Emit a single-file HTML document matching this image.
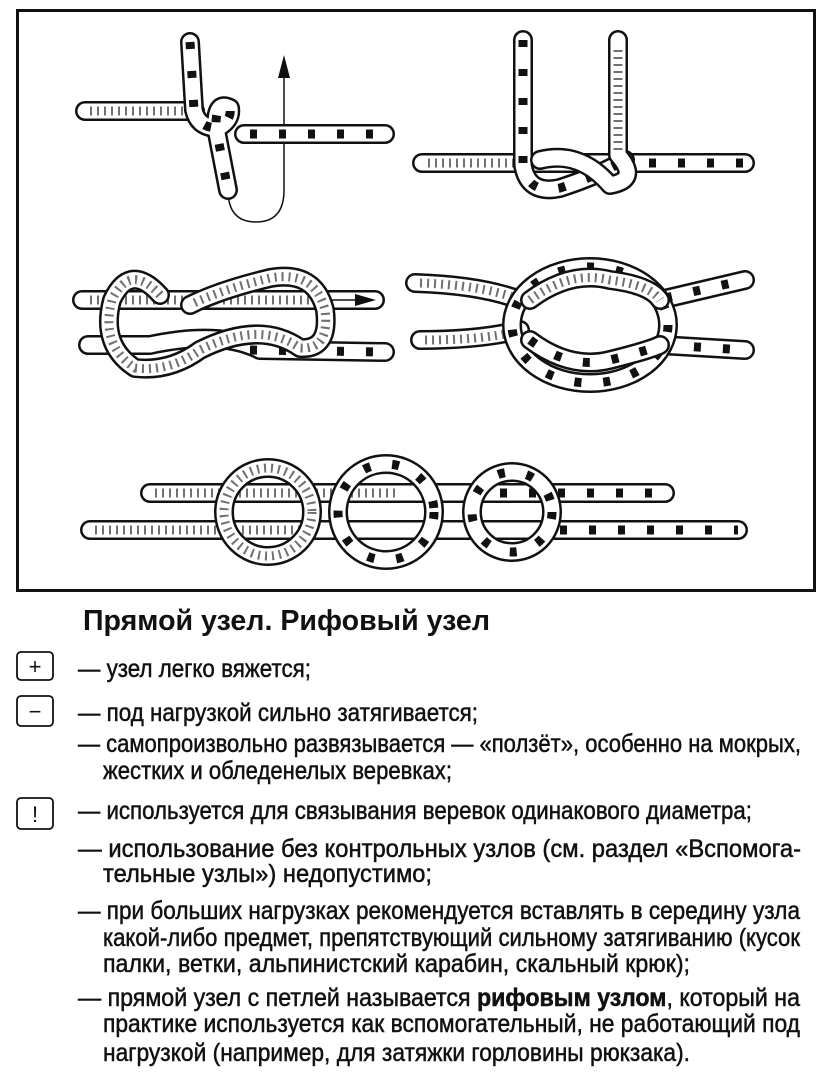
<!DOCTYPE html>
<html><head><meta charset="utf-8"><style>
html,body{margin:0;padding:0;background:#fff;}
svg{display:block}
text{font-family:"Liberation Sans",sans-serif;fill:#111}
.r1{fill:none;stroke:#111;stroke-width:20;stroke-linecap:round;stroke-linejoin:round}
.r2{fill:none;stroke:#fff;stroke-width:15;stroke-linecap:round;stroke-linejoin:round}
.r3{fill:none;stroke:#333;stroke-width:9;stroke-dasharray:2 5;opacity:.7}
.r4{fill:none;stroke:#111;stroke-width:9;stroke-dasharray:7 22}
.t text{stroke:#111;stroke-width:0.5}
</style></head><body>
<svg width="831" height="1080" viewBox="0 0 831 1080" xmlns="http://www.w3.org/2000/svg">
<rect x="17.5" y="10.5" width="797" height="580" fill="#fff" stroke="#111" stroke-width="3"/>

<g>
<!-- Fig1 -->
<path d="M228 190 Q228 222 256 222 Q284 222 284 190 L284 70" fill="none" stroke="#111" stroke-width="1.5"/>
<path d="M278 78 L284 55 L290 78 Z" fill="#111"/>
<path class="r1" d="M85 111 L195 111"/><path class="r2" d="M85 111 L195 111"/><path class="r3" d="M90 111 L190 111"/>
<path class="r1" d="M244 134 L385 134"/><path class="r2" d="M244 134 L385 134"/><path class="r4" d="M250 134 L385 134"/>
<path class="r1" d="M190 42 L194 110 Q198 128 218 128 Q232 120 230 108 Q215 100 216 128 L228 190"/>
<path class="r2" d="M190 42 L194 110 Q198 128 218 128 Q232 120 230 108 Q215 100 216 128 L228 190"/>
<path class="r4" d="M190 42 L194 110 Q198 128 218 128 Q232 120 230 108 Q215 100 216 128 L228 190"/>
<!-- Fig2 -->
<path class="r1" d="M422 163 L745 163"/><path class="r2" d="M422 163 L745 163"/><path class="r3" d="M428 163 L520 163"/><path class="r4" d="M620 163 L745 163"/>
<path class="r1" d="M523 40 L523 165 Q528 195 560 188 Q600 175 625 160"/><path class="r2" d="M523 40 L523 165 Q528 195 560 188 Q600 175 625 160"/><path class="r4" d="M523 40 L523 165 Q528 195 560 188 Q600 175 625 160"/>
<path class="r1" d="M540 160 Q580 150 610 185 Q640 180 618 155 L618 40"/><path class="r2" d="M540 160 Q580 150 610 185 Q640 180 618 155 L618 40"/><path class="r3" d="M618 150 L618 45"/>
<!-- Fig3 -->
<path class="r1" d="M82 300 L375 300"/><path class="r2" d="M82 300 L375 300"/><path class="r3" d="M90 300 L320 300"/>
<path d="M320 300 L372 300" stroke="#111" stroke-width="1.5"/><path d="M355 294 L376 300 L355 306Z" fill="#111"/>
<path class="r1" d="M88 345 L150 345 Q220 330 260 350 L385 352"/><path class="r2" d="M88 345 L150 345 Q220 330 260 350 L385 352"/><path class="r4" d="M250 350 L385 352"/>
<path class="r1" d="M160 295 Q130 262 112 300 Q100 345 135 368 Q170 372 200 350 Q260 320 300 348 Q330 350 325 310 Q315 270 270 278 Q220 290 190 305"/>
<path class="r2" d="M160 295 Q130 262 112 300 Q100 345 135 368 Q170 372 200 350 Q260 320 300 348 Q330 350 325 310 Q315 270 270 278 Q220 290 190 305"/>
<path class="r3" d="M160 295 Q130 262 112 300 Q100 345 135 368 Q170 372 200 350 Q260 320 300 348 Q330 350 325 310 Q315 270 270 278 Q220 290 190 305"/>
<!-- Fig4 -->
<path class="r1" d="M415 283 Q480 285 520 300"/><path class="r2" d="M415 283 Q480 285 520 300"/><path class="r3" d="M420 283 Q480 285 515 298"/>
<path class="r1" d="M420 340 Q480 340 520 330"/><path class="r2" d="M420 340 Q480 340 520 330"/><path class="r3" d="M425 340 Q480 340 515 332"/>
<path class="r1" d="M660 300 L745 280"/><path class="r2" d="M660 300 L745 280"/><path class="r4" d="M665 298 L745 280"/>
<path class="r1" d="M660 345 L745 350"/><path class="r2" d="M660 345 L745 350"/><path class="r4" d="M665 345 L745 350"/>
<ellipse cx="590" cy="325" rx="78" ry="58" class="r1"/><ellipse cx="590" cy="325" rx="78" ry="58" class="r2"/><ellipse cx="590" cy="325" rx="78" ry="58" class="r4"/>
<path class="r1" d="M530 300 Q570 270 610 280 Q650 285 660 300"/><path class="r2" d="M530 300 Q570 270 610 280 Q650 285 660 300"/><path class="r3" d="M530 300 Q570 270 610 280 Q650 285 660 300"/>
<path class="r1" d="M530 340 Q570 370 610 360 Q650 350 660 345"/><path class="r2" d="M530 340 Q570 370 610 360 Q650 350 660 345"/><path class="r4" d="M530 340 Q570 370 610 360 Q650 350 660 345"/>
<!-- Fig5 -->
<path class="r1" d="M150 493 L665 493"/><path class="r2" d="M150 493 L665 493"/><path class="r3" d="M155 493 L400 493"/><path class="r4" d="M500 493 L665 493"/>
<path class="r1" d="M90 530 L738 530"/><path class="r2" d="M90 530 L738 530"/><path class="r3" d="M95 530 L300 530"/><path class="r4" d="M560 530 L738 530"/>
<circle cx="268" cy="512" r="44" class="r1"/><circle cx="268" cy="512" r="44" class="r2"/><circle cx="268" cy="512" r="44" class="r3"/>
<circle cx="386" cy="512" r="48" class="r1"/><circle cx="386" cy="512" r="48" class="r2"/><circle cx="386" cy="512" r="48" class="r4"/>
<circle cx="512" cy="512" r="40" class="r1"/><circle cx="512" cy="512" r="40" class="r2"/><circle cx="512" cy="512" r="40" class="r4"/>
</g>

<text x="83" y="630" font-size="29" font-weight="bold" textLength="407" lengthAdjust="spacingAndGlyphs">Прямой узел. Рифовый узел</text>

<g fill="none" stroke="#111" stroke-width="1.8">
<rect x="17" y="652" width="36" height="28" rx="4"/>
<rect x="17" y="696" width="36" height="30" rx="4"/>
<rect x="17" y="798" width="36" height="31" rx="4"/>
</g>
<text x="35" y="674" font-size="22" text-anchor="middle">+</text>
<text x="35" y="719" font-size="22" text-anchor="middle">−</text>
<text x="35" y="822" font-size="22" text-anchor="middle">!</text>

<g font-size="25" class="t">
<text x="78" y="677" textLength="233" lengthAdjust="spacingAndGlyphs">— узел легко вяжется;</text>
<text x="78" y="721" textLength="400" lengthAdjust="spacingAndGlyphs">— под нагрузкой сильно затягивается;</text>
<text x="78" y="752" textLength="723" lengthAdjust="spacingAndGlyphs">— самопроизвольно развязывается — «ползёт», особенно на мокрых,</text>
<text x="103" y="779" textLength="349" lengthAdjust="spacingAndGlyphs">жестких и обледенелых веревках;</text>
<text x="78" y="819" textLength="674" lengthAdjust="spacingAndGlyphs">— используется для связывания веревок одинакового диаметра;</text>
<text x="78" y="857" textLength="723" lengthAdjust="spacingAndGlyphs">— использование без контрольных узлов (см. раздел «Вспомога-</text>
<text x="103" y="882" textLength="329" lengthAdjust="spacingAndGlyphs">тельные узлы») недопустимо;</text>
<text x="78" y="919" textLength="722" lengthAdjust="spacingAndGlyphs">— при больших нагрузках рекомендуется вставлять в середину узла</text>
<text x="103" y="946" textLength="697" lengthAdjust="spacingAndGlyphs">какой-либо предмет, препятствующий сильному затягиванию (кусок</text>
<text x="103" y="972" textLength="587" lengthAdjust="spacingAndGlyphs">палки, ветки, альпинистский карабин, скальный крюк);</text>
<text x="78" y="1006" textLength="722" lengthAdjust="spacingAndGlyphs">— прямой узел с петлей называется <tspan font-weight="bold">рифовым узлом</tspan>, который на</text>
<text x="103" y="1032" textLength="697" lengthAdjust="spacingAndGlyphs">практике используется как вспомогательный, не работающий под</text>
<text x="103" y="1061" textLength="587" lengthAdjust="spacingAndGlyphs">нагрузкой (например, для затяжки горловины рюкзака).</text>
</g>
</svg>
</body></html>
